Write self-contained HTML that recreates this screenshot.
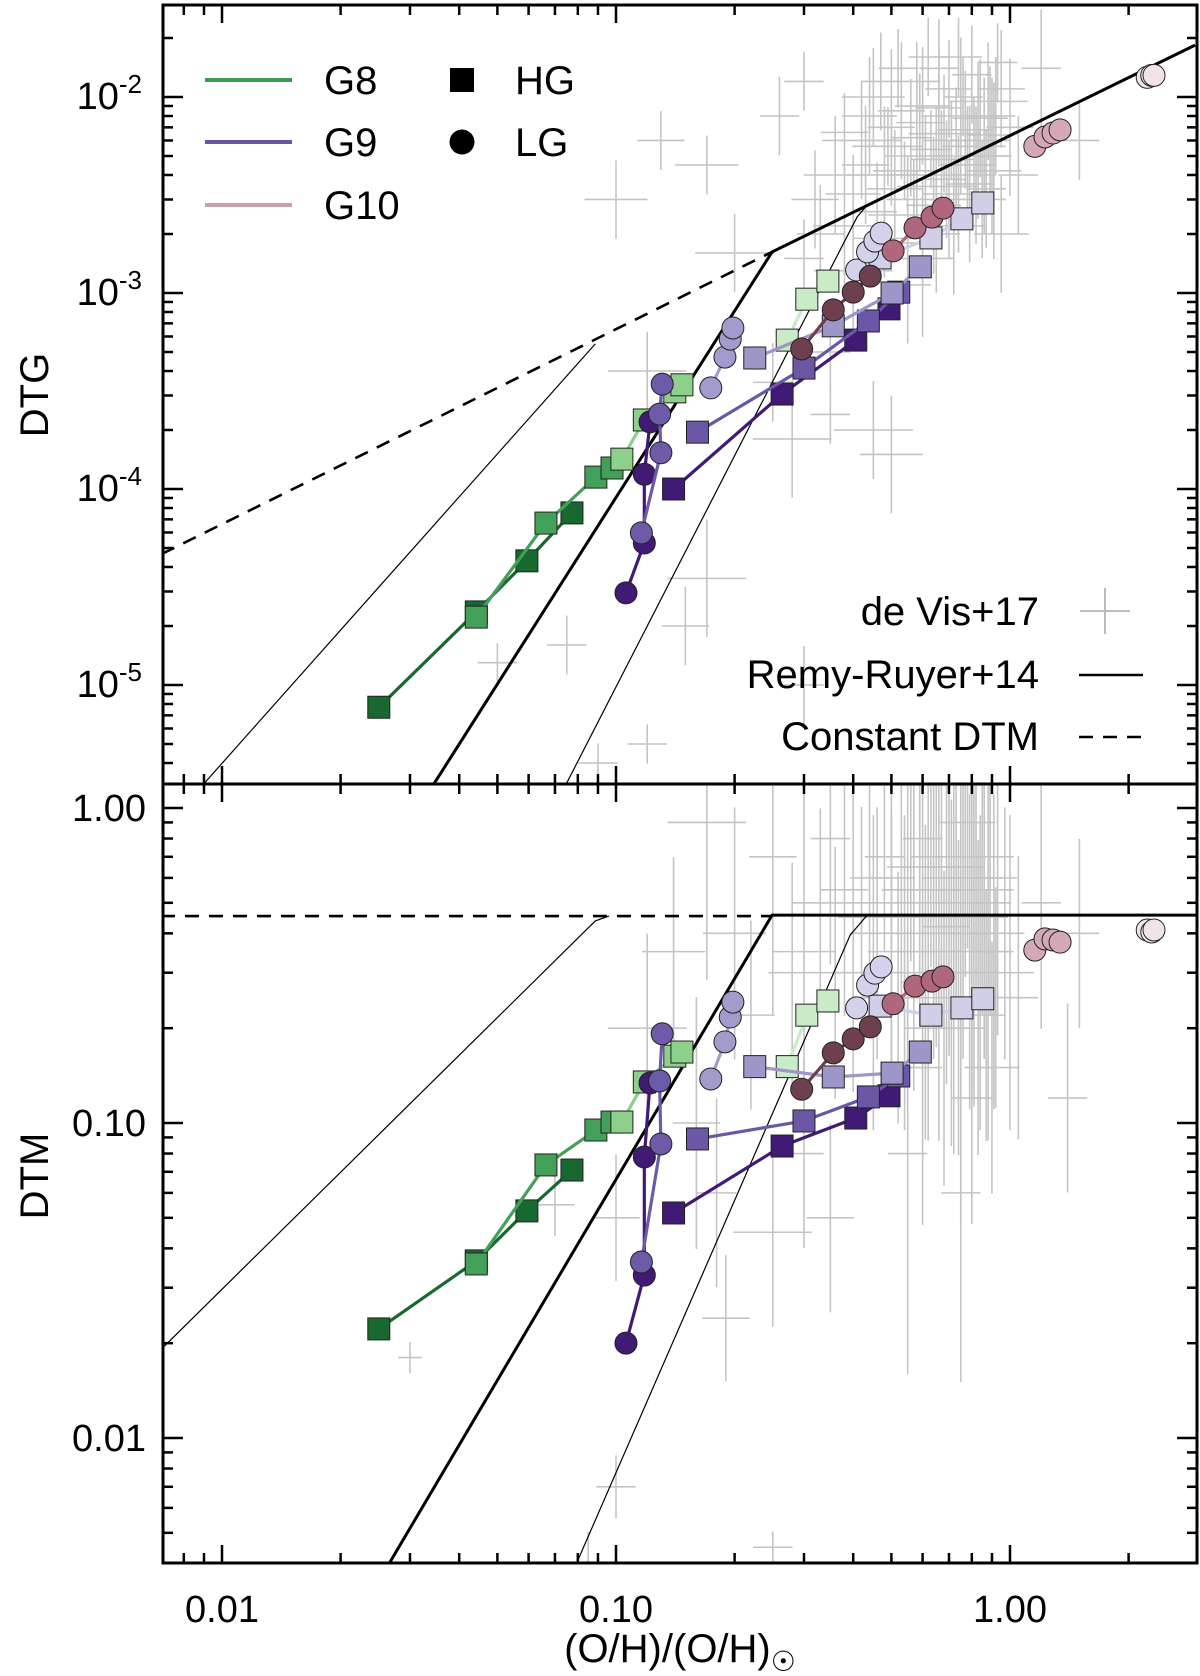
<!DOCTYPE html>
<html><head><meta charset="utf-8"><style>
html,body{margin:0;padding:0;background:#fff;}
svg{display:block;font-family:"Liberation Sans",sans-serif;}
</style></head><body>
<svg id="chart" width="1200" height="1676" viewBox="0 0 1200 1676" xmlns="http://www.w3.org/2000/svg">
<defs>
<clipPath id="clipT"><rect x="163" y="5" width="1034" height="779"/></clipPath>
<clipPath id="clipB"><rect x="163" y="784" width="1034" height="779"/></clipPath>
</defs>
<g id="gT" clip-path="url(#clipT)"></g>
<g id="gB" clip-path="url(#clipB)"></g>
<g id="axes"></g>
<g id="legend">
  <line x1="205" y1="80" x2="292" y2="80" stroke="#3c9a50" stroke-width="4"/>
  <text x="324" y="94" font-size="40">G8</text>
  <line x1="205" y1="142" x2="292" y2="142" stroke="#6a55a3" stroke-width="4"/>
  <text x="324" y="156" font-size="40">G9</text>
  <line x1="205" y1="205" x2="292" y2="205" stroke="#c7a0ab" stroke-width="4"/>
  <text x="324" y="219" font-size="40">G10</text>
  <rect x="450" y="68" width="24" height="24" fill="#000"/>
  <text x="515" y="94" font-size="40">HG</text>
  <circle cx="462" cy="142" r="12.5" fill="#000"/>
  <text x="515" y="156" font-size="40">LG</text>
  <text x="1039" y="625" font-size="40" text-anchor="end">de Vis+17</text>
  <line x1="1080" y1="611" x2="1130" y2="611" stroke="#bbb" stroke-width="2"/>
  <line x1="1105" y1="588" x2="1105" y2="634" stroke="#bbb" stroke-width="2"/>
  <text x="1039" y="688" font-size="40" text-anchor="end">Remy-Ruyer+14</text>
  <line x1="1079" y1="675" x2="1143" y2="675" stroke="#000" stroke-width="2.5"/>
  <text x="1039" y="750" font-size="40" text-anchor="end">Constant DTM</text>
  <line x1="1079" y1="737" x2="1143" y2="737" stroke="#000" stroke-width="2.5" stroke-dasharray="14,10"/>
</g>
<text transform="translate(48,395) rotate(-90)" font-size="40" text-anchor="middle">DTG</text>
<text transform="translate(48,1176) rotate(-90)" font-size="40" text-anchor="middle">DTM</text>
<text x="680" y="1662" font-size="40" text-anchor="middle">(O/H)/(O/H)<tspan font-size="28" dy="9">☉</tspan></text>
</svg>
<script>
// ---- model lines ----
const rrThickX = [0.0344, 0.249, 2.95];
const rrThickDTG = [3.1e-6, 1.62e-3, 1.84e-2];
const rrThinLX = [0.00895, 0.0886];
const rrThinLDTG = [3.1e-6, 5.5e-4];
const rrThinRX = [0.0746, 0.409, 0.43];
const rrThinRDTG = [3.1e-6, 2.44e-3, 2.75e-3];
const constX = [0.00703, 0.249];
const constDTG = [4.66e-5, 1.62e-3];
const rrThickBX = [0.0267, 0.249, 3.0];
const rrThickBDTM = [0.00404, 0.457, 0.457];
const rrThinLBX = [0.00703, 0.0886, 0.096];
const rrThinLBDTM = [0.0192, 0.438, 0.454];
const rrThinRBX = [0.0796, 0.393, 0.434];
const rrThinRBDTM = [0.00403, 0.395, 0.457];
const constBX = [0.007, 0.249];
const constBDTM = [0.454, 0.454];

// ---- simulation series ----
const g8aX = [0.025, 0.0442, 0.0594, 0.0773];
const g8aDTG = [7.7e-6, 2.36e-5, 4.3e-5, 7.55e-5];
const g8aDTM = [0.0222, 0.0365, 0.0526, 0.0709];
const g8bX = [0.0442, 0.0664, 0.0889, 0.0977];
const g8bDTG = [2.22e-5, 6.7e-5, 1.15e-4, 1.28e-4];
const g8bDTM = [0.0357, 0.0736, 0.095, 0.1007];
const g8cX = [0.1035, 0.118, 0.141, 0.147];
const g8cDTG = [1.42e-4, 2.25e-4, 3.13e-4, 3.4e-4];
const g8cDTM = [0.1007, 0.135, 0.163, 0.168];
const g8dX = [0.272, 0.305, 0.345];
const g8dDTG = [5.75e-4, 9.3e-4, 1.15e-3];
const g8dDTM = [0.151, 0.220, 0.244];
const g9aX = [0.140, 0.264, 0.406, 0.493];
const g9aDTG = [1.0e-4, 3.05e-4, 5.75e-4, 8.3e-4];
const g9aDTM = [0.0518, 0.0845, 0.1037, 0.122];
const g9bX = [0.161, 0.300, 0.437, 0.522];
const g9bDTG = [1.95e-4, 4.14e-4, 7.2e-4, 1.01e-3];
const g9bDTM = [0.089, 0.1015, 0.121, 0.141];
const g9cX = [0.225, 0.356, 0.502, 0.592];
const g9cDTG = [4.66e-4, 6.8e-4, 1.0e-3, 1.36e-3];
const g9cDTM = [0.151, 0.140, 0.144, 0.168];
const g9dX = [0.468, 0.630, 0.755, 0.853];
const g9dDTG = [1.51e-3, 1.91e-3, 2.39e-3, 2.88e-3];
const g9dDTM = [0.235, 0.220, 0.232, 0.248];
const g9eX = [0.106, 0.118, 0.118, 0.122];
const g9eDTG = [2.95e-5, 5.3e-5, 1.19e-4, 2.2e-4];
const g9eDTM = [0.020, 0.0329, 0.078, 0.134];
const g9fX = [0.116, 0.130, 0.129, 0.131];
const g9fDTG = [5.97e-5, 1.53e-4, 2.41e-4, 3.43e-4];
const g9fDTM = [0.0362, 0.0858, 0.136, 0.192];
const g9gX = [0.174, 0.189, 0.195, 0.198];
const g9gDTG = [3.28e-4, 4.71e-4, 5.82e-4, 6.63e-4];
const g9gDTM = [0.138, 0.181, 0.217, 0.242];
const g9hX = [0.408, 0.435, 0.454, 0.471];
const g9hDTG = [1.31e-3, 1.62e-3, 1.84e-3, 2.02e-3];
const g9hDTM = [0.232, 0.274, 0.299, 0.313];
const g10aX = [0.296, 0.356, 0.400, 0.442];
const g10aDTG = [5.18e-4, 8.2e-4, 1.01e-3, 1.22e-3];
const g10aDTM = [0.128, 0.167, 0.185, 0.202];
const g10bX = [0.505, 0.574, 0.634, 0.676];
const g10bDTG = [1.64e-3, 2.15e-3, 2.44e-3, 2.71e-3];
const g10bDTM = [0.239, 0.272, 0.282, 0.291];
const g10cX = [1.156, 1.227, 1.286, 1.340];
const g10cDTG = [5.6e-3, 6.25e-3, 6.55e-3, 6.8e-3];
const g10cDTM = [0.354, 0.384, 0.381, 0.375];
const g10dX = [2.23, 2.29, 2.32];
const g10dDTG = [1.26e-2, 1.29e-2, 1.29e-2];
const g10dDTM = [0.410, 0.404, 0.410];

// ---- de Vis+17 observations: [x, value, xerr(dex), yerr(dex)] ----
const devisTop = [[0.17,4.5e-3,0.08,0.15],[0.26,8e-3,0.05,0.2],[0.20,1.6e-3,0.1,0.2],[0.32,3e-3,0.06,0.25],[0.30,1.2e-2,0.05,0.15],[0.38,2.2e-3,0.08,0.3],[0.42,6e-3,0.1,0.3],[0.45,1.0e-2,0.08,0.25],[0.48,4e-3,0.1,0.35],[0.5,7e-3,0.06,0.4],[0.52,1.4e-2,0.05,0.2],[0.55,2.5e-3,0.1,0.3],[0.58,5e-3,0.08,0.35],[0.6,9e-3,0.07,0.3],[0.62,1.6e-2,0.05,0.2],[0.65,3.5e-3,0.1,0.4],[0.68,6.5e-3,0.09,0.3],[0.7,1.1e-2,0.06,0.25],[0.72,2.2e-3,0.08,0.35],[0.75,8e-3,0.1,0.4],[0.78,4.5e-3,0.07,0.3],[0.8,1.3e-2,0.05,0.25],[0.83,6e-3,0.08,0.4],[0.85,3e-3,0.06,0.3],[0.88,9.5e-3,0.1,0.3],[0.9,5e-3,0.05,0.4],[0.93,1.5e-2,0.05,0.2],[0.95,2e-3,0.07,0.3],[1.0,7e-3,0.06,0.35],[0.4,1.3e-3,0.1,0.3],[0.35,5e-4,0.05,0.2],[0.45,2e-4,0.1,0.25],[0.5,1.5e-4,0.08,0.3],[0.12,4e-4,0.1,0.2],[0.1,3e-3,0.08,0.2],[0.13,6e-3,0.06,0.15],[0.17,3.5e-5,0.1,0.3],[0.15,2e-5,0.06,0.2],[0.09,4e-6,0.05,0.1],[0.12,5e-6,0.05,0.1],[0.075,1.6e-5,0.05,0.15],[0.3,1e-5,0.05,0.2],[0.25,3.5e-4,0.05,0.2],[0.28,1.8e-4,0.1,0.3],[0.6,1.5e-3,0.08,0.4],[0.55,1.1e-3,0.06,0.3],[0.7,3e-3,0.05,0.3],[0.35,2.4e-4,0.05,0.15],[0.05,1.3e-5,0.05,0.1],[1.2,1.4e-2,0.05,0.3],
[0.40,3.2e-3,0.07,0.2],[0.43,4.5e-3,0.06,0.3],[0.46,2.6e-3,0.05,0.25],[0.49,5.6e-3,0.09,0.2],[0.51,3.4e-3,0.07,0.3],[0.53,8.5e-3,0.06,0.35],[0.54,4.2e-3,0.08,0.15],[0.56,6.2e-3,0.05,0.3],[0.57,3.0e-3,0.07,0.2],[0.59,7.4e-3,0.06,0.25],[0.61,4.0e-3,0.09,0.3],[0.63,5.4e-3,0.05,0.2],[0.64,2.8e-3,0.07,0.35],[0.66,8.8e-3,0.06,0.3],[0.67,4.8e-3,0.08,0.25],[0.69,3.8e-3,0.05,0.3],[0.71,6.0e-3,0.07,0.2],[0.73,5.0e-3,0.06,0.35],[0.74,3.2e-3,0.09,0.3],[0.76,1.0e-2,0.05,0.2],[0.77,6.8e-3,0.07,0.3],[0.79,3.6e-3,0.06,0.4],[0.81,5.6e-3,0.08,0.25],[0.82,4.0e-3,0.05,0.35],[0.84,7.8e-3,0.07,0.3],[0.86,5.0e-3,0.06,0.4],[0.87,3.4e-3,0.05,0.3],[0.89,6.4e-3,0.06,0.35],[0.91,4.2e-3,0.07,0.45],[0.92,8.0e-3,0.05,0.3],[0.36,4.0e-3,0.08,0.3],[0.38,6.6e-3,0.06,0.2],[0.44,8.0e-3,0.07,0.3],[0.47,1.2e-2,0.05,0.25],[0.58,1.2e-2,0.06,0.2],[0.66,1.4e-2,0.05,0.25],[0.74,1.6e-2,0.06,0.2],[0.55,1.8e-3,0.07,0.25],[0.65,2.0e-3,0.06,0.3],[0.48,1.9e-3,0.08,0.2],[0.33,2.0e-3,0.06,0.25],[0.30,1.5e-3,0.05,0.2],[0.95,1.1e-2,0.06,0.3],[1.05,4.0e-3,0.05,0.3],[1.5,6.0e-3,0.05,0.2]];
const devisBottom = [[0.17,0.9,0.1,0.5],[0.2,0.4,0.08,0.4],[0.25,0.7,0.06,0.5],[0.3,0.35,0.08,0.5],[0.35,0.8,0.05,0.4],[0.4,0.5,0.1,0.6],[0.45,0.3,0.08,0.5],[0.5,0.6,0.06,0.6],[0.52,0.25,0.1,0.4],[0.55,0.45,0.08,0.6],[0.6,0.8,0.05,0.5],[0.62,0.35,0.09,0.6],[0.65,0.55,0.07,0.5],[0.68,0.2,0.1,0.5],[0.7,0.65,0.06,0.6],[0.72,0.4,0.08,0.7],[0.75,0.3,0.05,0.8],[0.78,0.9,0.07,0.4],[0.8,0.5,0.1,0.6],[0.83,0.25,0.06,0.5],[0.85,0.7,0.08,0.5],[0.88,0.35,0.05,0.6],[0.9,0.15,0.07,0.4],[0.93,0.6,0.05,0.5],[1.0,0.3,0.06,0.5],[1.2,0.5,0.05,0.4],[1.4,0.12,0.05,0.3],[1.5,0.4,0.05,0.3],[0.1,0.05,0.06,0.2],[0.12,0.2,0.1,0.3],[0.14,0.35,0.08,0.3],[0.16,0.1,0.06,0.4],[0.18,0.06,0.05,0.3],[0.25,0.045,0.1,0.3],[0.3,0.08,0.05,0.3],[0.35,0.05,0.06,0.3],[0.1,0.007,0.05,0.1],[0.085,0.004,0.05,0.1],[0.03,0.018,0.03,0.05],[0.25,0.0045,0.05,0.05],[0.07,0.055,0.05,0.1],[0.19,0.024,0.06,0.2],[0.75,0.06,0.05,0.6],
[0.42,0.45,0.06,0.35],[0.44,0.6,0.05,0.3],[0.46,0.4,0.07,0.4],[0.48,0.7,0.05,0.3],[0.5,0.35,0.06,0.45],[0.53,0.55,0.05,0.35],[0.54,0.3,0.07,0.5],[0.56,0.65,0.06,0.3],[0.57,0.4,0.05,0.5],[0.59,0.5,0.07,0.4],[0.61,0.28,0.06,0.5],[0.63,0.7,0.05,0.35],[0.64,0.45,0.07,0.45],[0.66,0.35,0.06,0.6],[0.67,0.6,0.05,0.4],[0.69,0.42,0.06,0.5],[0.71,0.3,0.07,0.55],[0.73,0.55,0.05,0.4],[0.74,0.25,0.06,0.5],[0.76,0.45,0.07,0.45],[0.77,0.65,0.05,0.35],[0.79,0.35,0.06,0.5],[0.81,0.4,0.05,0.55],[0.82,0.6,0.07,0.4],[0.84,0.3,0.05,0.5],[0.86,0.45,0.06,0.45],[0.87,0.22,0.05,0.4],[0.89,0.55,0.06,0.4],[0.91,0.35,0.05,0.5],[0.92,0.25,0.06,0.35],[0.38,0.55,0.06,0.4],[0.36,0.3,0.05,0.4],[0.33,0.5,0.07,0.3],[0.28,0.3,0.06,0.35],[0.22,0.22,0.06,0.3],[0.97,0.4,0.05,0.4],[1.05,0.25,0.05,0.45],[0.6,0.15,0.05,0.5],[0.8,0.12,0.05,0.4],[0.55,0.08,0.05,0.7]];

const xTickLabels = ['0.01', '0.10', '1.00'];
const xTickValues = [0.01, 0.1, 1];
const dtgTickValues = [1e-2, 1e-3, 1e-4, 1e-5];
const dtgTickExp = ['-2', '-3', '-4', '-5'];
const dtmTickValues = [1, 0.1, 0.01];
const dtmTickLabels = ['1.00', '0.10', '0.01'];

// ---- axis functions ----
const L = 163, R = 1197, T = 5, M = 784, B = 1563;
const lg = Math.log10;
function X(v){ return 222 + 394 * (lg(v) + 2); }
function YT(v){ return 97 + 196 * (-2 - lg(v)); }
function YB(v){ return 808 - 315 * lg(v); }

const NS = 'http://www.w3.org/2000/svg';
function mk(tag, attrs, parent){
  const e = document.createElementNS(NS, tag);
  for (const k in attrs) e.setAttribute(k, attrs[k]);
  parent.appendChild(e);
  return e;
}
const gT = document.getElementById('gT');
const gB = document.getElementById('gB');
const axes = document.getElementById('axes');

function drawCrosses(arr, yf, g, nm){
  arr.forEach(function(p){
    const cx = X(p[0]), cy = yf(p[1]);
    const x1 = X(p[0] / Math.pow(10, p[2])), x2 = X(p[0] * Math.pow(10, p[2]));
    const y1 = yf(p[1] / Math.pow(10, p[3])), y2 = yf(p[1] * Math.pow(10, p[3]));
    const h = mk('line', {x1: x1, y1: cy, x2: x2, y2: cy, stroke: '#c4c4c4', 'stroke-width': 1.6}, g);
    
    
    const v = mk('line', {x1: cx, y1: y1, x2: cx, y2: y2, stroke: '#c4c4c4', 'stroke-width': 1.6}, g);
    
    
  });
}
drawCrosses(devisTop, YT, gT, 'devis-dtg');
drawCrosses(devisBottom, YB, gB, 'devis-dtm');

function poly(xs, ys, yf, g, w, dash, nm){
  const pts = xs.map(function(x, i){ return X(x) + ',' + yf(ys[i]); }).join(' ');
  const a = {points: pts, fill: 'none', stroke: '#000', 'stroke-width': w};
  if (dash) a['stroke-dasharray'] = dash;
  const p = mk('polyline', a, g);
  
  
}
poly(constX, constDTG, YT, gT, 2.6, '14,10', 'constant-dtm-line-top');
poly(rrThinLX, rrThinLDTG, YT, gT, 1.2, null, 'rr14-lower-bound-top');
poly(rrThinRX, rrThinRDTG, YT, gT, 1.2, null, 'rr14-upper-bound-top');
poly(rrThickX, rrThickDTG, YT, gT, 3, null, 'rr14-fit-top');
poly(constBX, constBDTM, YB, gB, 2.6, '14,10', 'constant-dtm-line-bottom');
poly(rrThinLBX, rrThinLBDTM, YB, gB, 1.2, null, 'rr14-lower-bound-bottom');
poly(rrThinRBX, rrThinRBDTM, YB, gB, 1.2, null, 'rr14-upper-bound-bottom');
poly(rrThickBX, rrThickBDTM, YB, gB, 3, null, 'rr14-fit-bottom');

const series = [
  {n:'g8-hg-a', x:g8aX, t:g8aDTG, m:g8aDTM, c:'#17692f', s:'sq'},
  {n:'g8-hg-b', x:g8bX, t:g8bDTG, m:g8bDTM, c:'#43a058', s:'sq'},
  {n:'g8-hg-c', x:g8cX, t:g8cDTG, m:g8cDTM, c:'#8dd08c', s:'sq'},
  {n:'g8-hg-d', x:g8dX, t:g8dDTG, m:g8dDTM, c:'#c9ebc6', s:'sq'},
  {n:'g9-hg-a', x:g9aX, t:g9aDTG, m:g9aDTM, c:'#401a74', s:'sq'},
  {n:'g9-hg-b', x:g9bX, t:g9bDTG, m:g9bDTM, c:'#6b57a6', s:'sq'},
  {n:'g9-hg-c', x:g9cX, t:g9cDTG, m:g9cDTM, c:'#9e96c8', s:'sq'},
  {n:'g9-hg-d', x:g9dX, t:g9dDTG, m:g9dDTM, c:'#d0cfe7', s:'sq'},
  {n:'g9-lg-a', x:g9eX, t:g9eDTG, m:g9eDTM, c:'#401a74', s:'ci'},
  {n:'g9-lg-b', x:g9fX, t:g9fDTG, m:g9fDTM, c:'#6d5aa8', s:'ci'},
  {n:'g9-lg-c', x:g9gX, t:g9gDTG, m:g9gDTM, c:'#a39bcc', s:'ci'},
  {n:'g9-lg-d', x:g9hX, t:g9hDTG, m:g9hDTM, c:'#d4d2ea', s:'ci'},
  {n:'g10-lg-a', x:g10aX, t:g10aDTG, m:g10aDTM, c:'#6e3f4f', s:'ci'},
  {n:'g10-lg-b', x:g10bX, t:g10bDTG, m:g10bDTM, c:'#b0677d', s:'ci'},
  {n:'g10-lg-c', x:g10cX, t:g10cDTG, m:g10cDTM, c:'#d4a8b6', s:'ci'},
  {n:'g10-lg-d', x:g10dX, t:g10dDTG, m:g10dDTM, c:'#f2e3e8', s:'ci'}
];
function drawSeries(s, ys, yf, g, panel){
  const pts = s.x.map(function(x, i){ return X(x) + ',' + yf(ys[i]); }).join(' ');
  const pl = mk('polyline', {points: pts, fill: 'none', stroke: s.c, 'stroke-width': 3.2}, g);
  
  
  s.x.forEach(function(x, i){
    const cx = X(x), cy = yf(ys[i]);
    let e;
    if (s.s === 'sq') e = mk('rect', {x: cx - 11, y: cy - 11, width: 22, height: 22, fill: s.c, stroke: '#222', 'stroke-width': 1}, g);
    else e = mk('circle', {cx: cx, cy: cy, r: 11, fill: s.c, stroke: '#222', 'stroke-width': 1}, g);
    
    
  });
}
series.forEach(function(s){ drawSeries(s, s.t, YT, gT, 'dtg'); drawSeries(s, s.m, YB, gB, 'dtm'); });

[[T, M, 'dtg'], [M, B, 'dtm']].forEach(function(p){
  const r = mk('rect', {x: L, y: p[0], width: R - L, height: p[1] - p[0], fill: 'none', stroke: '#000', 'stroke-width': 3}, axes);
  
  
});
function tick(x1, y1, x2, y2, nm){
  const t = mk('line', {x1: x1, y1: y1, x2: x2, y2: y2, stroke: '#000', 'stroke-width': 2.5}, axes);
  
  
}
for (let d = -3; d <= 0; d++){
  for (let k = 1; k <= 9; k++){
    const v = k * Math.pow(10, d);
    const px = X(v);
    if (px < L + 2 || px > R - 2) continue;
    const len = k === 1 ? 18 : 10;
    [T, M].forEach(function(top){ tick(px, top, px, top + len, 'x-tick'); });
    [M, B].forEach(function(bot){ tick(px, bot, px, bot - len, 'x-tick'); });
  }
}
function yTicks(yf, y0, y1, dmin, dmax){
  for (let d = dmin; d <= dmax; d++){
    for (let k = 1; k <= 9; k++){
      const v = k * Math.pow(10, d);
      const py = yf(v);
      if (py < y0 + 2 || py > y1 - 2) continue;
      const len = k === 1 ? 20 : 10;
      tick(L, py, L + len, py, 'y-tick');
      tick(R, py, R - len, py, 'y-tick');
    }
  }
}
yTicks(YT, T, M, -6, -2);
yTicks(YB, M, B, -3, 0);
xTickValues.forEach(function(v, i){
  const t = mk('text', {x: X(v), y: 1622, 'font-size': 38, 'text-anchor': 'middle'}, axes);
  t.textContent = xTickLabels[i];
  
  
});
dtgTickValues.forEach(function(v, i){
  const t = mk('text', {x: 142, y: YT(v) + 12, 'font-size': 38, 'text-anchor': 'end'}, axes);
  t.textContent = '10';
  const s = mk('tspan', {'font-size': 26, dy: -16}, t);
  s.textContent = dtgTickExp[i];
  
  
});
dtmTickValues.forEach(function(v, i){
  const t = mk('text', {x: 146, y: YB(v) + 13, 'font-size': 38, 'text-anchor': 'end'}, axes);
  t.textContent = dtmTickLabels[i];
  
  
});
</script>
</body></html>
